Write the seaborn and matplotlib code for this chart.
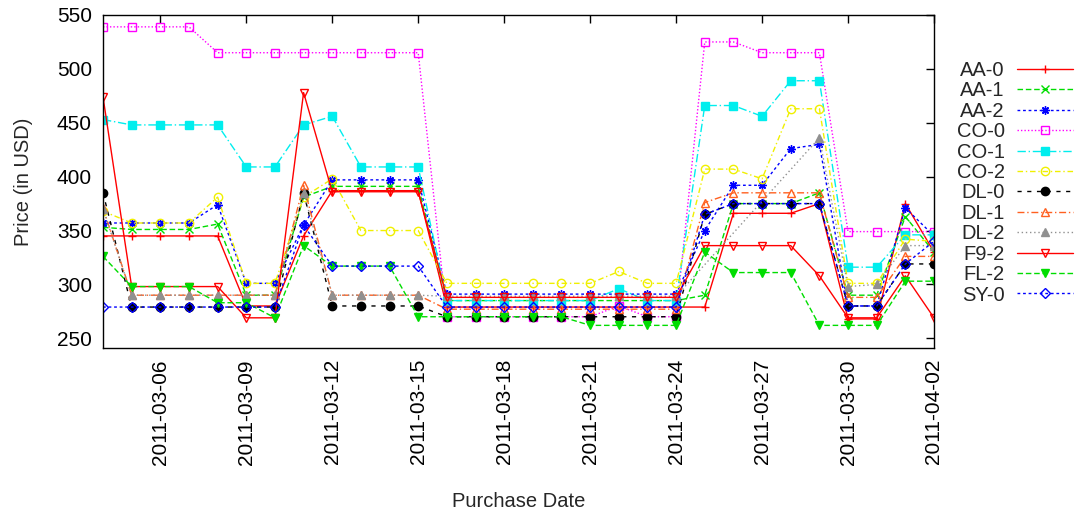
import numpy as np
import pandas as pd
import matplotlib
matplotlib.use("Agg")
import matplotlib.pyplot as plt
import matplotlib.dates as mdates
import seaborn as sns

dates = pd.date_range("2011-03-04", "2011-04-02", freq="D")

aa0 = [345, 345, 345, 345, 345, 280, 280, 345, 387, 387, 387, 387, 279, 279, 279, 279, 279, 279, 279, 279,
       279, 279, 366, 366, 366, 375, 268, 268, 375, 330]
aa1 = [353, 351, 351, 351, 356, 290, 290, 381, 391, 391, 391, 391, 285, 285, 285, 285, 285, 285, 285, 285,
       285, 290, 375, 375, 375, 385, 290, 290, 363, 330]
aa2 = [357, 357, 357, 357, 374, 301, 301, 355, 397, 397, 397, 397, 291, 291, 291, 291, 291, 291, 291, 291,
       291, 350, 392, 392, 426, 430, 280, 280, 371, 345]
co0 = [539, 539, 539, 539, 515, 515, 515, 515, 515, 515, 515, 515, 270, 270, 270, 270, 270, 270, 280, 270,
       270, 525, 525, 515, 515, 515, 349, 349, 349, 349]
co1 = [453, 448, 448, 448, 448, 409, 409, 448, 456, 409, 409, 409, 285, 285, 285, 285, 285, 285, 296, 285,
       285, 466, 466, 456, 489, 489, 316, 316, 346, 346]
co2 = [368, 357, 357, 357, 381, 301, 301, 381, 398, 350, 350, 350, 301, 301, 301, 301, 301, 301, 312, 301,
       301, 407, 407, 398, 463, 463, 301, 301, 342, 340]
dl0 = [385, 279, 279, 279, 279, 279, 279, 385, 280, 280, 280, 280, 270, 270, 270, 270, 270, 270, 270, 270,
       270, 365, 375, 375, 375, 375, 280, 280, 319, 319]
dl1 = [371, 290, 290, 290, 290, 290, 290, 392, 290, 290, 290, 290, 277, 277, 277, 277, 277, 277, 277, 277,
       277, 376, 385, 385, 385, 385, 288, 288, 326, 326]
dl2 = [370, 290, 290, 290, 290, 290, 290, 385, 290, 290, 290, 290, 289, 289, 289, 289, 289, 289, 289, 289,
       289, None, None, None, None, 436, 298, 300, 336, 336]
f92 = [474, 298, 298, 298, 298, 269, 269, 478, 386, 386, 386, 386, 288, 288, 288, 288, 288, 288, 288, 288,
       288, 336, 336, 336, 336, 308, 269, 269, 308, 269]
fl2 = [326, 298, 298, 298, 283, 283, 269, 336, 317, 317, 317, 270, 270, 270, 270, 270, 270, 262, 262, 262,
       262, 330, 311, 311, 311, 262, 262, 262, 303, 303]
sy0 = [279, 279, 279, 279, 279, 279, 279, 355, 317, 317, 317, 317, 279, 279, 279, 279, 279, 279, 279, 279,
       279, 365, 375, 375, 375, 375, 280, 280, 319, 340]

names = ["AA-0", "AA-1", "AA-2", "CO-0", "CO-1", "CO-2", "DL-0", "DL-1", "DL-2", "F9-2", "FL-2", "SY-0"]
values = [aa0, aa1, aa2, co0, co1, co2, dl0, dl1, dl2, f92, fl2, sy0]

# gnuplot-like line types
styles = {
    "AA-0": dict(color="#ff0000", ls="-", marker="+", mfc="#ff0000"),
    "AA-1": dict(color="#00dd00", ls=(0, (4, 2)), marker="x", mfc="#00dd00"),
    "AA-2": dict(color="#0000ff", ls=(0, (2, 2)), marker=(8, 2, 0), mfc="#0000ff"),
    "CO-0": dict(color="#ff00ff", ls=(0, (1, 1.5)), marker="s", mfc="none"),
    "CO-1": dict(color="#00eeee", ls=(0, (6, 2, 1, 2)), marker="s", mfc="#00eeee"),
    "CO-2": dict(color="#f0f000", ls=(0, (4, 2, 1, 2)), marker="o", mfc="none"),
    "DL-0": dict(color="#000000", ls=(0, (3, 4)), marker="o", mfc="#000000"),
    "DL-1": dict(color="#ff6020", ls=(0, (5, 2, 1, 2)), marker="^", mfc="none"),
    "DL-2": dict(color="#909090", ls=(0, (1, 2)), marker="^", mfc="#909090"),
    "F9-2": dict(color="#ff0000", ls="-", marker="v", mfc="none"),
    "FL-2": dict(color="#00dd00", ls=(0, (4, 2)), marker="v", mfc="#00dd00"),
    "SY-0": dict(color="#0000ff", ls=(0, (2, 2)), marker="D", mfc="none"),
}

rows = []
for n, v in zip(names, values):
    for d, p in zip(dates, v):
        rows.append({"date": d, "series": n, "price": p})
df = pd.DataFrame(rows).dropna()
df["price"] = df["price"].astype(float)

sns.set_theme(style="white")
plt.rcParams["font.family"] = ["Liberation Sans", "DejaVu Sans"]

fig = plt.figure(figsize=(10.75, 5.12), dpi=100)
ax = fig.add_axes([103 / 1075, 1 - 348 / 512, (934 - 103) / 1075, (348 - 15) / 512])

for n in names:
    s = styles[n]
    sub = df[df["series"] == n]
    ms = 5 if s["marker"] in ("D",) else 6
    sns.lineplot(data=sub, x="date", y="price", ax=ax, label=n, color=s["color"],
                 linestyle=s["ls"], linewidth=1.0, marker=s["marker"], markersize=ms,
                 markerfacecolor=s["mfc"], markeredgecolor=s["color"], markeredgewidth=1.0,
                 estimator=None, errorbar=None)

ax.set_xlim(dates[0], dates[-1])
ax.set_ylim(241, 550)
ax.set_yticks(range(250, 551, 50))
ax.set_xticks(pd.date_range("2011-03-06", "2011-04-02", freq="3D"))
ax.xaxis.set_major_formatter(mdates.DateFormatter("%Y-%m-%d"))
ax.tick_params(axis="both", direction="in", length=6, width=1, top=True, right=True,
               labelsize=15, colors="black", pad=8)
plt.setp(ax.get_xticklabels(), rotation=90, ha="center", va="top")
for sp in ax.spines.values():
    sp.set_color("black")
    sp.set_linewidth(1.0)

ax.set_xlabel("Purchase Date", fontsize=14.5, labelpad=20)
ax.set_ylabel("Price (in USD)", fontsize=14.5, labelpad=17)

ax.legend(loc="upper right", bbox_to_anchor=(1073 / 1075, 1 - 61 / 512),
          bbox_transform=fig.transFigure, frameon=False, markerfirst=False,
          fontsize=14.5, handlelength=2.8, handletextpad=0.6, labelspacing=0.07,
          borderpad=0, borderaxespad=0)

fig.savefig("out.png", dpi=100)
